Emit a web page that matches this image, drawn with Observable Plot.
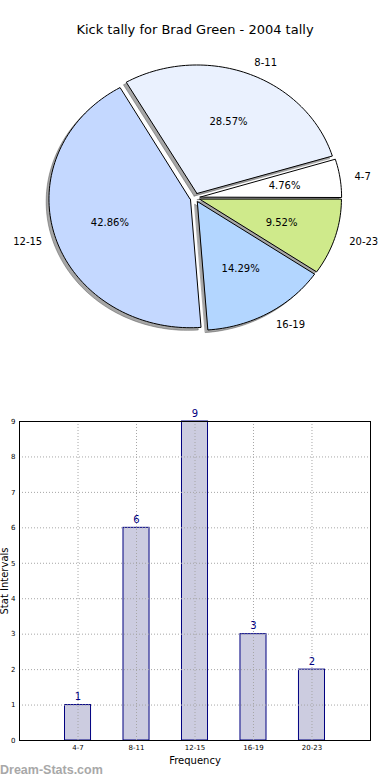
<!DOCTYPE html>
<html><head><meta charset="utf-8">
<script src="https://cdn.jsdelivr.net/npm/d3@7"></script>
<script src="https://cdn.jsdelivr.net/npm/@observablehq/plot@0.6"></script>
<style>
body{margin:0;background:#fff;font-family:"DejaVu Sans",sans-serif;}
#wrap{width:390px;height:780px;position:relative;overflow:hidden;background:#fff;}
#title{height:23px;padding-top:22px;line-height:16px;font-size:13px;text-align:center;color:#000;white-space:nowrap;}
svg{display:block;}
#mark{position:absolute;left:0;top:763px;font-family:"Liberation Sans",sans-serif;font-weight:bold;font-size:12.5px;line-height:14px;color:#a8a8a8;}
</style></head><body>
<div id="wrap">
<div id="title"></div>
<div id="pie"></div>
<div id="bar"></div>
<div id="mark"></div>
</div>
<script>
// ---- data ----
const chartTitle = "Kick tally for Brad Green - 2004 tally";
const categories = ["4-7", "8-11", "12-15", "16-19", "20-23"];
const counts = [1, 6, 9, 3, 2];
const sliceColors = ["#ffffff", "#eaf1fe", "#c4d8ff", "#b3d6ff", "#cfea8b"];
const explode = [0.035, 0.035, 0.035, 0.035, 0.035];
const yTicks = [0, 1, 2, 3, 4, 5, 6, 7, 8, 9];
const xLabel = "Frequency";
const yLabel = "Stat Intervals";
const watermark = "Dream-Stats.com";

document.getElementById("title").textContent = chartTitle;
document.getElementById("mark").textContent = watermark;

const baseStyle = {fontFamily: "DejaVu Sans", fontSize: "10px", background: "white", color: "black", overflow: "visible"};

// ---- pie geometry from values ----
const total = d3.sum(counts);
const arcPts = [];
const labels = [];
let a0 = 0;
categories.forEach((c, i) => {
  const frac = counts[i] / total;
  const a1 = a0 + frac * 2 * Math.PI;
  const mid = (a0 + a1) / 2;
  const e = explode[i];
  const ox = e * Math.cos(mid), oy = e * Math.sin(mid);
  const n = Math.max(4, Math.ceil(frac * 240));
  for (let k = 0; k <= n; k++) {
    const t = a0 + (a1 - a0) * k / n;
    arcPts.push({cat: c, cx: ox, cy: oy, x: ox + Math.cos(t), y: oy + Math.sin(t)});
  }
  labels.push({
    cat: c,
    lx: ox + 1.1 * Math.cos(mid), ly: oy + 1.1 * Math.sin(mid),
    px: ox + 0.6 * Math.cos(mid), py: oy + 0.6 * Math.sin(mid),
    right: Math.cos(mid) > 0,
    pct: (frac * 100).toFixed(2) + "%"
  });
  a0 = a1;
});

const pie = Plot.plot({
  width: 390, height: 325, margin: 0,
  style: baseStyle,
  x: {domain: [-1.3795, 1.3767], axis: null},
  y: {domain: [-1.339, 1.188], axis: null},
  color: {domain: categories, range: sliceColors},
  marks: [
    Plot.area(arcPts, {x1: "cx", y1: "cy", x2: "x", y2: "y", z: "cat", fill: "#4d4d4d", fillOpacity: 0.5, stroke: "#4d4d4d", strokeOpacity: 0.45, strokeWidth: 1, dx: -2.8, dy: 2.6}),
    Plot.area(arcPts, {x1: "cx", y1: "cy", x2: "x", y2: "y", z: "cat", fill: "cat", stroke: "black", strokeWidth: 1, strokeLinejoin: "miter"}),
    Plot.text(labels.filter(d => d.right), {x: "lx", y: "ly", text: "cat", textAnchor: "start", lineAnchor: "middle", fontSize: 10, fill: "black"}),
    Plot.text(labels.filter(d => !d.right), {x: "lx", y: "ly", text: "cat", textAnchor: "end", lineAnchor: "middle", fontSize: 10, fill: "black"}),
    Plot.text(labels, {x: "px", y: "py", text: "pct", textAnchor: "middle", lineAnchor: "middle", fontSize: 10, fill: "black"})
  ]
});
document.getElementById("pie").appendChild(pie);

// ---- bar chart ----
const barData = categories.map((c, i) => ({cat: c, n: counts[i]}));
const bar = Plot.plot({
  width: 390, height: 398,
  marginTop: 51, marginBottom: 28, marginLeft: 19, marginRight: 20,
  style: baseStyle,
  x: {type: "band", domain: categories, paddingInner: 0.555, paddingOuter: 0.778, align: 0.5, round: false},
  y: {domain: [0, 9]},
  marks: [
    Plot.barY(barData, {x: "cat", y: "n", fill: "#ccccE0", stroke: "#000080", strokeWidth: 1}),
    Plot.ruleY(yTicks.filter(t => t > 0 && t < 9), {stroke: "#a6a6a6", strokeDasharray: "1,2", strokeWidth: 1}),
    Plot.ruleX(categories, {x: d => d, stroke: "#a6a6a6", strokeDasharray: "1,2", strokeWidth: 1}),
    Plot.text(barData, {x: "cat", y: "n", text: d => String(d.n), lineAnchor: "bottom", dy: -5, fill: "#000080", fontSize: 10}),
    Plot.axisY({ticks: yTicks, tickSize: 0, tickPadding: 4, fontSize: 7, label: null}),
    Plot.axisX({tickSize: 0, tickPadding: 5, fontSize: 7, label: null}),
    Plot.frame({stroke: "black", strokeWidth: 1}),
    Plot.text([xLabel], {frameAnchor: "bottom", dy: 20, lineAnchor: "middle", fontSize: 10, fill: "black"}),
    Plot.text([yLabel], {frameAnchor: "left", dx: -15, rotate: -90, textAnchor: "middle", lineAnchor: "middle", fontSize: 10, fill: "black"})
  ]
});
document.getElementById("bar").appendChild(bar);
</script>
</body></html>
